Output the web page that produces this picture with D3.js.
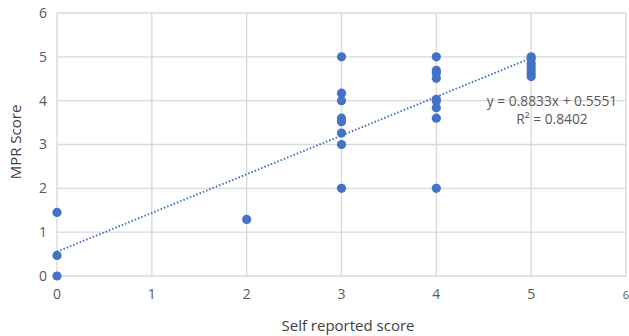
<!DOCTYPE html>
<html><head><meta charset="utf-8">
<script src="https://cdn.jsdelivr.net/npm/d3@7"></script>
<style>body{margin:0;background:#fff;} text{font-family:"Open Sans","Noto Sans",sans-serif;}</style>
</head><body>
<svg id="c" width="629" height="336"></svg>
<script>
const selfScores = [0,0,0, 2, 3,3,3,3,3,3,3,3, 4,4,4,4,4,4,4,4,4, 5,5,5,5,5,5,5];
const mprScores  = [0,0.47,1.45, 1.29, 5,4.17,4,3.6,3.52,3.26,3,2, 5,4.69,4.63,4.51,4.03,3.99,3.84,3.6,2, 5,4.95,4.85,4.78,4.7,4.62,4.55];
const xTicks = [0,1,2,3,4,5,6];
const yTicks = [0,1,2,3,4,5,6];
const slope = 0.8833, intercept = 0.5551, r2 = 0.8402;
const trendRange = [0,5];
const eqLabel = "y = 0.8833x + 0.5551";
const r2Label = "R² = 0.8402";
const xTitle = "Self reported score", yTitle = "MPR Score";

const svg = d3.select("#c");
const x = d3.scaleLinear().domain([0,6]).range([57,626]);
const y = d3.scaleLinear().domain([0,6]).range([276,13]);
const grid = "#d9d9d9", txt = "#595959", title = "#404040";

svg.append("g").selectAll("line").data(yTicks).join("line")
  .attr("x1",x(0)).attr("x2",x(6)).attr("y1",d=>y(d)).attr("y2",d=>y(d))
  .attr("stroke",grid).attr("stroke-width",1.3);
svg.append("g").selectAll("line").data(xTicks).join("line")
  .attr("y1",y(0)).attr("y2",y(6)).attr("x1",d=>x(d)).attr("x2",d=>x(d))
  .attr("stroke",grid).attr("stroke-width",1.3);

svg.append("g").selectAll("text").data(yTicks).join("text")
  .attr("x",47).attr("y",d=>y(d)).attr("dy","0.35em").attr("text-anchor","end")
  .attr("font-size",14).attr("fill",txt).text(d=>d);
svg.append("g").selectAll("text").data(xTicks).join("text")
  .attr("x",d=>x(d)).attr("y",299).attr("text-anchor","middle")
  .attr("font-size",d=>d===6?11:14).attr("fill",txt).text(d=>d);

svg.append("line")
  .attr("x1",x(trendRange[0])).attr("y1",y(slope*trendRange[0]+intercept))
  .attr("x2",x(trendRange[1])).attr("y2",y(slope*trendRange[1]+intercept))
  .attr("stroke","#4472c4").attr("stroke-width",2).attr("stroke-dasharray","1.5,2");

svg.append("g").selectAll("circle").data(selfScores.map((s,i)=>[s,mprScores[i]])).join("circle")
  .attr("cx",d=>x(d[0])).attr("cy",d=>y(d[1])).attr("r",4.6).attr("fill","#4472c4");

svg.append("text").attr("x",552).attr("y",106).attr("text-anchor","middle")
  .attr("font-size",13.8).attr("fill",txt).text(eqLabel);
svg.append("text").attr("x",552).attr("y",124).attr("text-anchor","middle")
  .attr("font-size",13.8).attr("fill",txt).text(r2Label);

svg.append("text").attr("x",348).attr("y",331).attr("text-anchor","middle")
  .attr("font-size",15).attr("fill",title).text(xTitle);
svg.append("text").attr("transform","translate(21,142) rotate(-90)").attr("text-anchor","middle")
  .attr("font-size",15).attr("fill",title).text(yTitle);
</script>
</body></html>
